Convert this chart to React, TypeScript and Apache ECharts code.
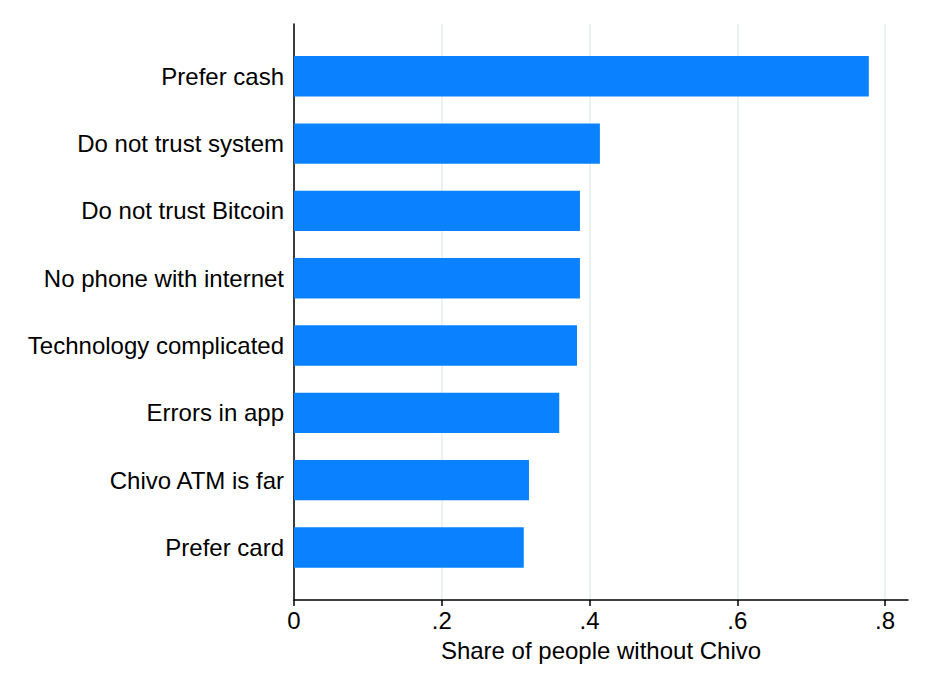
import React, { useEffect, useRef } from "react";
import * as echarts from "echarts";

// categories listed top to bottom
const reasons = [
  "Prefer cash",
  "Do not trust system",
  "Do not trust Bitcoin",
  "No phone with internet",
  "Technology complicated",
  "Errors in app",
  "Chivo ATM is far",
  "Prefer card",
];
const shares = [0.778, 0.414, 0.387, 0.387, 0.383, 0.359, 0.318, 0.311];
const xTicks = [0, 0.2, 0.4, 0.6, 0.8];
const xMax = 0.831;

const FONT = "'Liberation Sans', Arial, Helvetica, sans-serif";

const fmtTick = (v: number) => {
  if (v === 0) return "0";
  return String(+v.toFixed(1)).replace(/^0/, "");
};

const App: React.FC = () => {
  const chartRef = useRef<HTMLDivElement>(null);

  useEffect(() => {
    if (!chartRef.current) return;
    const chart = echarts.init(chartRef.current, null, { renderer: "svg" });

    const option = {
      animation: false,
      backgroundColor: "#ffffff",
      textStyle: { fontFamily: FONT },
      grid: [
        // bars
        { left: 294, width: 614, top: 42.6, height: 538.5, containLabel: false },
        // axis frame
        { left: 294, width: 614, top: 24, height: 576, containLabel: false },
      ],
      xAxis: [
        {
          type: "value",
          gridIndex: 0,
          min: 0,
          max: xMax,
          show: false,
        },
        {
          type: "value",
          gridIndex: 1,
          min: 0,
          max: xMax,
          axisLine: { show: true, onZero: false, lineStyle: { color: "#000", width: 1.5 } },
          axisTick: {
            show: true,
            length: 6,
            customValues: xTicks,
            lineStyle: { color: "#000", width: 1.5 },
          },
          axisLabel: {
            customValues: xTicks,
            formatter: fmtTick,
            fontSize: 24,
            color: "#000",
            margin: 8,
            fontFamily: FONT,
          },
          splitLine: {
            show: true,
            lineStyle: { color: "#e6eeee", width: 1.5 },
          },
          name: "Share of people without Chivo",
          nameLocation: "middle",
          nameGap: 38,
          nameTextStyle: { fontSize: 24, color: "#000", fontFamily: FONT },
        },
      ],
      yAxis: [
        {
          type: "category",
          gridIndex: 0,
          data: reasons,
          inverse: true,
          axisLine: { show: false },
          axisTick: { show: false },
          splitLine: { show: false },
          axisLabel: { fontSize: 24, color: "#000", margin: 10, fontFamily: FONT },
        },
        {
          type: "value",
          gridIndex: 1,
          min: 0,
          max: 1,
          axisLine: { show: true, onZero: false, lineStyle: { color: "#000", width: 1.5 } },
          axisTick: { show: false },
          axisLabel: { show: false },
          splitLine: { show: false },
        },
      ],
      series: [
        {
          type: "bar",
          xAxisIndex: 0,
          yAxisIndex: 0,
          data: shares,
          barWidth: "60%",
          itemStyle: { color: "#0a82ff" },
        },
      ],
    };

    chart.setOption(option);
    return () => {
      chart.dispose();
    };
  }, []);

  return (
    <div
      ref={chartRef}
      style={{ position: "fixed", left: 0, top: 0, width: 936, height: 674 }}
    />
  );
};

export default App;
